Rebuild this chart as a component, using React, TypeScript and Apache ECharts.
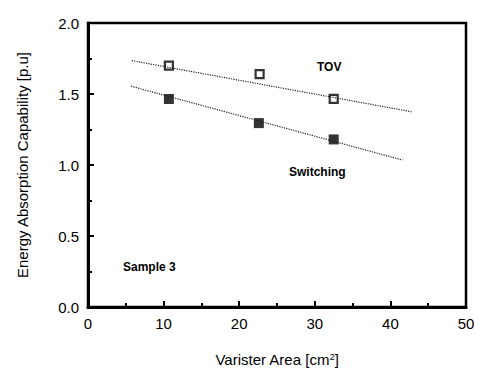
import React, { useEffect, useRef } from "react";
import * as echarts from "echarts";

const tovArea = [10.7, 22.7, 32.5];
const tovEnergy = [1.7, 1.64, 1.465];
const swArea = [10.7, 22.6, 32.5];
const swEnergy = [1.465, 1.295, 1.18];
const tovFitX = [5.8, 42.8];
const tovFitY = [1.735, 1.375];
const swFitX = [5.7, 41.6];
const swFitY = [1.555, 1.035];
const annotations = ["TOV", "Switching", "Sample 3"];
const xTitle = "Varister Area [cm{sup|2}]";
const yTitle = "Energy Absorption Capability [p.u]";

const font = "Liberation Sans";

export default function App() {
  const ref = useRef<HTMLDivElement>(null);
  useEffect(() => {
    if (!ref.current) return;
    const chart = echarts.init(ref.current, null, { renderer: "svg" });
    const axisBits = {
      axisLine: { show: true, lineStyle: { color: "#000000", width: 3 } },
      axisTick: { show: true, inside: true, length: 6, lineStyle: { color: "#000000", width: 2 } },
      minorTick: { show: true, splitNumber: 2, length: 4, lineStyle: { color: "#000000", width: 2 } },
      splitLine: { show: false },
    };
    chart.setOption({
      animation: false,
      backgroundColor: "#ffffff",
      grid: { left: 88, right: 23, top: 23, bottom: 69 },
      xAxis: {
        type: "value",
        min: 0,
        max: 50,
        interval: 10,
        name: xTitle,
        nameLocation: "middle",
        nameGap: 45,
        nameTextStyle: { fontFamily: font, fontSize: 15, color: "#000", rich: { sup: { fontFamily: font, fontSize: 9, verticalAlign: "top", color: "#000" } } },
        ...axisBits,
        axisLabel: { fontFamily: font, fontSize: 15, color: "#000", margin: 9 },
      },
      yAxis: {
        type: "value",
        min: 0,
        max: 2,
        interval: 0.5,
        name: yTitle,
        nameLocation: "middle",
        nameGap: 58,
        nameTextStyle: { fontFamily: font, fontSize: 15, color: "#000" },
        ...axisBits,
        axisLabel: { fontFamily: font, fontSize: 15, color: "#000", margin: 9, formatter: (v: number) => v.toFixed(1) },
      },
      series: [
        { type: "line", data: tovFitX.map((x, i) => [x, tovFitY[i]]), symbol: "none", lineStyle: { color: "#222", width: 1.2, type: "dotted" } },
        { type: "line", data: swFitX.map((x, i) => [x, swFitY[i]]), symbol: "none", lineStyle: { color: "#222", width: 1.2, type: "dotted" } },
        { type: "scatter", data: tovArea.map((x, i) => [x, tovEnergy[i]]), symbol: "rect", symbolSize: 8, itemStyle: { color: "#fff", borderColor: "#000", borderWidth: 2.2 } },
        { type: "scatter", data: swArea.map((x, i) => [x, swEnergy[i]]), symbol: "rect", symbolSize: 10, itemStyle: { color: "#000" } },
      ],
      graphic: [
        { type: "rect", shape: { x: 88, y: 23, width: 378, height: 284 }, style: { fill: "none", stroke: "#000000", lineWidth: 2.5 }, z: 10, silent: true },
        { type: "text", left: 317, top: 61, style: { text: annotations[0], fontFamily: font, fontSize: 12, fontWeight: "bold", fill: "#000" } },
        { type: "text", left: 289, top: 166, style: { text: annotations[1], fontFamily: font, fontSize: 12, fontWeight: "bold", fill: "#000" } },
        { type: "text", left: 123, top: 261, style: { text: annotations[2], fontFamily: font, fontSize: 12, fontWeight: "bold", fill: "#000" } },
      ],
    });
    return () => chart.dispose();
  }, []);
  return <div ref={ref} style={{ width: 489, height: 376, position: "relative", left: -8, top: -8 }} />;
}
